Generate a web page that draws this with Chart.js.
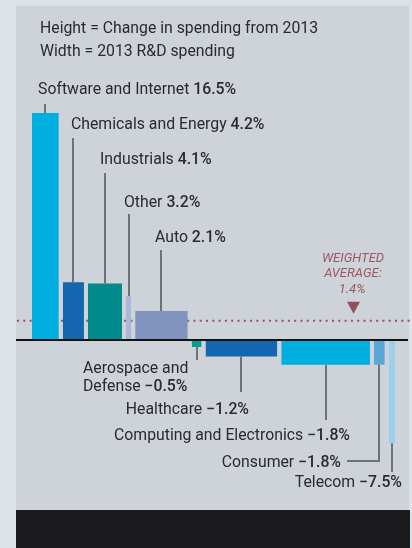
<!DOCTYPE html>
<html>
<head>
<meta charset="utf-8">
<script src="https://cdn.jsdelivr.net/npm/chart.js@4"></script>
<style>
  html, body { margin: 0; padding: 0; background: #dde2e9; }
  #wrap { position: relative; width: 412px; height: 548px; overflow: hidden; }
  #panel { position: absolute; left: 16px; top: 6px; width: 393px; height: 504px; background: #cdd3d9; }
  #footer { position: absolute; left: 16px; top: 510px; width: 394px; height: 38px; background: #1b1b1d; }
  canvas { position: absolute; left: 0; top: 0; }
</style>
</head>
<body>
<div id="wrap">
  <div id="panel"></div>
  <div id="footer"></div>
  <canvas id="c" width="412" height="548"></canvas>
</div>
<script>
// ---- DATA ----
const categories = ['Software and Internet', 'Chemicals and Energy', 'Industrials', 'Other', 'Auto',
  'Aerospace and Defense', 'Healthcare', 'Computing and Electronics', 'Consumer', 'Telecom'];
const changePct = [16.5, 4.2, 4.1, 3.2, 2.1, -0.5, -1.2, -1.8, -1.8, -7.5];      // bar height
const rdSpend2013 = [52, 41, 66, 10, 102, 19, 139, 172, 21, 12];                 // bar width (US$ bn, est.)
const weightedAverage = 1.4;
const valueLabels = ['16.5%', '4.2%', '4.1%', '3.2%', '2.1%', '\u22120.5%', '\u22121.2%', '\u22121.8%', '\u22121.8%', '\u22127.5%'];

// ---- STYLES ----
const colors = ['#00aedf', '#1467ae', '#008a8c', '#a9b8d8', '#8094bf', '#00a08a', '#1467ae', '#00aedf', '#5aa6d6', '#9bd1ea'];
const GAP = 7.75;
const FONT = 'Roboto, "DejaVu Sans", sans-serif';
const DY = 1.5;

// cumulative x extents built from widths
const extents = [];
let acc = 0;
rdSpend2013.forEach((w, i) => { extents.push([acc, acc + w]); acc += w + GAP; });

const datasets = categories.map((name, i) => ({
  label: name,
  data: [{ x: extents[i][0], y: changePct[i] }, { x: extents[i][1], y: changePct[i] }],
  fill: 'origin',
  backgroundColor: colors[i],
  borderWidth: 0,
  borderColor: colors[i],
  pointRadius: 0,
  order: 1
}));

// label layout (annotation placement in px)
const labelLayout = [
  { x: 38, y: 89, lineTo: 104, align: 'left' },
  { x: 71, y: 124, lineTo: 138, align: 'left' },
  { x: 100, y: 159, lineTo: 173, align: 'left' },
  { x: 124, y: 202, lineTo: 214, align: 'left' },
  { x: 155, y: 237, lineTo: 250, align: 'left' },
  { x: 83, y: 368, lineTo: 360, align: 'twoline' },
  { x: 249, y: 409, lineTo: 392, align: 'right' },
  { x: 350, y: 435, lineTo: 420, align: 'right' },
  { x: 341, y: 462, lineTo: 461, align: 'right', elbow: 347 },
  { x: 402, y: 482, lineTo: 472, align: 'right' }
];

function drawRich(ctx, parts, x, y, align) {
  ctx.textBaseline = 'middle';
  const widths = parts.map(p => { ctx.font = p.font; return ctx.measureText(p.text).width; });
  const total = widths.reduce((a, b) => a + b, 0);
  let cx = align === 'right' ? x - total : x;
  parts.forEach((p, i) => {
    ctx.font = p.font; ctx.fillStyle = p.color || '#2a2a2a';
    ctx.textAlign = 'left';
    ctx.fillText(p.text, cx, y + DY);
    cx += widths[i];
  });
}

const annotations = {
  id: 'annotations',
  beforeDatasetsDraw(chart) {
    const ctx = chart.ctx, y = chart.scales.y;
    const ay = y.getPixelForValue(weightedAverage);
    ctx.save();
    ctx.strokeStyle = '#a54a56';
    ctx.lineWidth = 2;
    ctx.setLineDash([2, 4.3]);
    ctx.beginPath(); ctx.moveTo(17, ay); ctx.lineTo(410, ay); ctx.stroke();
    ctx.restore();
  },
  afterDatasetsDraw(chart) {
    const ctx = chart.ctx, xs = chart.scales.x, ys = chart.scales.y;
    const y0 = ys.getPixelForValue(0);
    ctx.save();
    // header text
    const reg = '15.8px ' + FONT, bold = '500 15.8px ' + FONT;
    drawRich(ctx, [{ text: 'Height = Change in spending from 2013', font: reg }], 40, 28, 'left');
    drawRich(ctx, [{ text: 'Width = 2013 R&D spending', font: reg }], 40, 51, 'left');

    // zero axis
    ctx.strokeStyle = '#111';
    ctx.lineWidth = 2;
    ctx.beginPath(); ctx.moveTo(16, y0); ctx.lineTo(408, y0); ctx.stroke();

    // leader lines and labels
    ctx.strokeStyle = '#6f7377';
    ctx.lineWidth = 2;
    categories.forEach((name, i) => {
      const L = labelLayout[i];
      const cx = Math.round(xs.getPixelForValue((extents[i][0] + extents[i][1]) / 2));
      const end = ys.getPixelForValue(changePct[i]);
      ctx.beginPath();
      ctx.moveTo(cx, end);
      ctx.lineTo(cx, L.lineTo);
      if (L.elbow) ctx.lineTo(L.elbow, L.lineTo);
      ctx.stroke();
      if (L.align === 'twoline') {
        drawRich(ctx, [{ text: 'Aerospace and', font: reg }], L.x, L.y, 'left');
        drawRich(ctx, [{ text: 'Defense ', font: reg }, { text: valueLabels[i], font: bold }], L.x, L.y + 18, 'left');
      } else {
        drawRich(ctx, [{ text: name + ' ', font: reg }, { text: valueLabels[i], font: bold }], L.x, L.y, L.align);
      }
    });

    // weighted average label + marker
    const ay = ys.getPixelForValue(weightedAverage);
    ctx.fillStyle = '#9c5862';
    ctx.font = 'italic 13px ' + FONT;
    ctx.textAlign = 'center';
    ctx.textBaseline = 'middle';
    ctx.fillText('WEIGHTED', 353, 257 + DY);
    ctx.fillText('AVERAGE:', 353, 272 + DY);
    ctx.fillText(weightedAverage.toFixed(1) + '%', 352, 288 + DY);
    ctx.fillStyle = '#94505b';
    ctx.beginPath();
    ctx.moveTo(347, ay - 19); ctx.lineTo(360, ay - 19); ctx.lineTo(353.5, ay - 7); ctx.closePath(); ctx.fill();
    ctx.restore();
  }
};

const K = 327 / 634;
new Chart(document.getElementById('c'), {
  type: 'line',
  data: { datasets },
  options: {
    responsive: false,
    animation: false,
    layout: { padding: 0 },
    plugins: { legend: { display: false }, tooltip: { enabled: false } },
    elements: { line: { tension: 0 } },
    scales: {
      x: { type: 'linear', display: false, min: -32 / K, max: 380 / K },
      y: { type: 'linear', display: false, min: -208 / 13.76, max: 340 / 13.76 }
    }
  },
  plugins: [annotations]
});
</script>
</body>
</html>
